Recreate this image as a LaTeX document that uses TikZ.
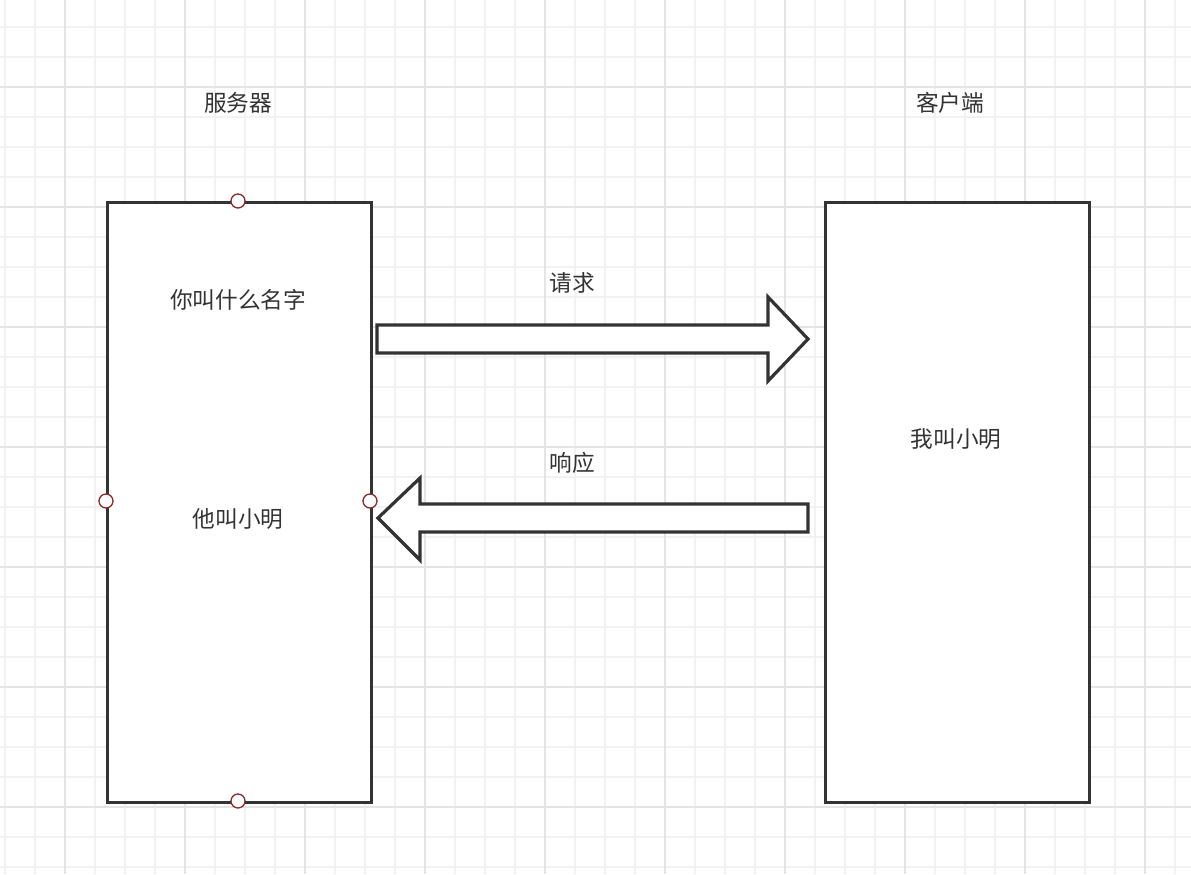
\documentclass[tikz,border=0pt]{standalone}
\usepackage{fontspec}
\newfontfamily\cjk{Noto Sans CJK SC}
\definecolor{txt}{HTML}{333333}
\definecolor{minor}{HTML}{F2F2F2}
\definecolor{major}{HTML}{E4E4E4}
\definecolor{port}{HTML}{8B2A2A}
\tikzset{
  lbl/.style={font=\cjk\fontsize{17}{20}\selectfont, text=txt, inner sep=0pt},
  boxst/.style={draw=txt, line width=2.4pt, fill=white},
  arrowst/.style={draw=txt, line width=2.4pt, fill=white, line join=miter},
  portst/.style={circle, draw=port, fill=white, line width=1pt, minimum size=10.5pt, inner sep=0pt}
}
\begin{document}
\begin{tikzpicture}[x=0.75pt,y=-0.75pt]
\useasboundingbox (0,0) rectangle (1191,874);
\fill[white] (0,0) rectangle (1191,874);
\foreach \i in {0,...,39} {\draw[minor, line width=1.2pt] ({5+30*\i},0) -- ({5+30*\i},874);}
\foreach \i in {0,...,29} {\draw[minor, line width=1.2pt] (0,{27+30*\i}) -- (1191,{27+30*\i});}
\foreach \i in {0,...,9} {\draw[major, line width=1.5pt] ({65+120*\i},0) -- ({65+120*\i},874);}
\foreach \i in {0,...,7} {\draw[major, line width=1.5pt] (0,{87+120*\i}) -- (1191,{87+120*\i});}
\node[boxst, minimum width=198pt, minimum height=450pt, anchor=north west] (srv) at (106,201) {};
\node[boxst, minimum width=198pt, minimum height=450pt, anchor=north west] (cli) at (824,201) {};
\node[lbl] (tsrv) at (238,103) {服务器};
\node[lbl] (tcli) at (950,103) {客户端};
\node[lbl] (q) at (238,300) {你叫什么名字};
\node[lbl] (a) at (238,519) {他叫小明};
\node[lbl] (c) at (956,439) {我叫小明};
\node[lbl] (req) at (572,283) {请求};
\node[lbl] (res) at (572,463) {响应};
\draw[arrowst] (377,325) -- (768,325) -- (768,297) -- (808,339) -- (768,381) -- (768,353) -- (377,353) -- cycle;
\draw[arrowst] (808,504) -- (420,504) -- (420,478) -- (378,518) -- (420,560) -- (420,532) -- (808,532) -- cycle;
\node[portst] (p1) at (238,201) {};
\node[portst] (p2) at (238,801) {};
\node[portst] (p3) at (106,501) {};
\node[portst] (p4) at (370,501) {};
\end{tikzpicture}
\end{document}
